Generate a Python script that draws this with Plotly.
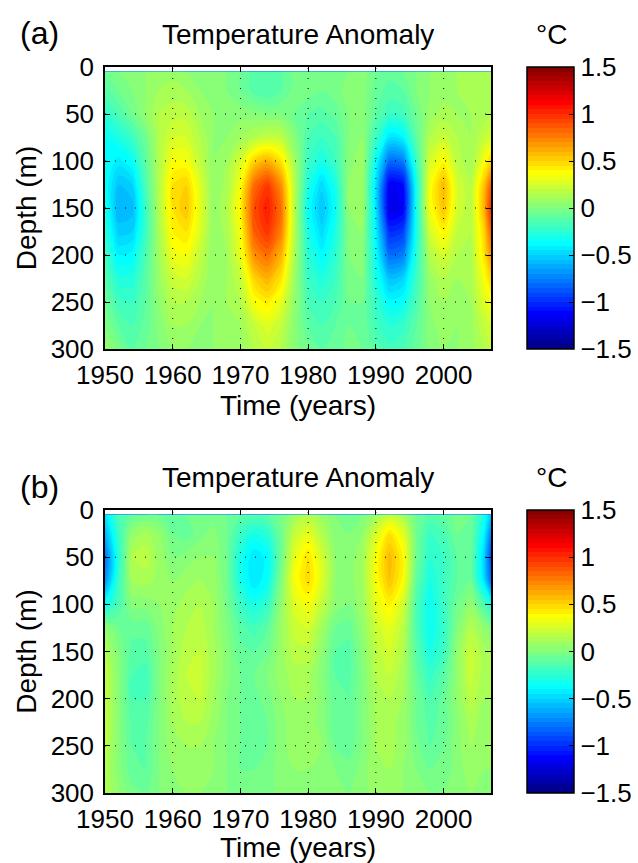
import plotly.graph_objects as go

# time axis (years) and depth levels (m) of the gridded anomaly fields
years = [1950, 1952, 1954, 1956, 1958, 1960, 1962, 1964, 1966, 1968,
         1970, 1972, 1974, 1976, 1978, 1980, 1982, 1984, 1986, 1988,
         1990, 1992, 1994, 1996, 1998, 2000, 2002, 2004, 2006, 2007]
depths = [5, 25, 50, 75, 100, 125, 150, 175, 200, 225, 250, 275, 300]

# panel (a): temperature anomaly (degC), one row per depth
temp_a = [
    [-0.05, 0.0, 0.02, 0.05, 0.08, 0.08, 0.05, 0.05, 0.03, 0.0, -0.05, -0.12, -0.15, -0.1, -0.03, 0.0, 0.0, -0.02, 0.0, 0.03, -0.05, -0.08, -0.05, 0.0, 0.05, 0.08, 0.1, 0.15, 0.12, 0.12],
    [-0.12, -0.05, 0.0, 0.05, 0.1, 0.12, 0.1, 0.05, 0.03, 0.0, -0.05, -0.12, -0.15, -0.1, -0.03, -0.02, -0.05, -0.02, 0.02, 0.03, -0.08, -0.12, -0.1, 0.0, 0.05, 0.08, 0.1, 0.15, 0.12, 0.12],
    [-0.25, -0.15, -0.05, 0.05, 0.15, 0.18, 0.18, 0.1, 0.05, 0.03, 0.03, 0.02, 0.0, 0.0, -0.05, -0.1, -0.12, -0.08, 0.0, 0.03, -0.1, -0.2, -0.18, -0.05, 0.08, 0.12, 0.1, 0.1, 0.12, 0.15],
    [-0.35, -0.3, -0.2, -0.05, 0.15, 0.25, 0.25, 0.15, 0.05, 0.05, 0.1, 0.15, 0.2, 0.18, 0.02, -0.15, -0.2, -0.15, 0.0, 0.05, -0.2, -0.45, -0.4, -0.1, 0.15, 0.22, 0.15, 0.1, 0.2, 0.25],
    [-0.35, -0.42, -0.35, -0.1, 0.15, 0.35, 0.35, 0.2, 0.05, 0.1, 0.25, 0.5, 0.6, 0.45, 0.1, -0.2, -0.3, -0.2, 0.02, 0.1, -0.35, -0.8, -0.75, -0.2, 0.25, 0.38, 0.18, 0.1, 0.35, 0.5],
    [-0.35, -0.55, -0.5, -0.15, 0.15, 0.45, 0.5, 0.28, 0.05, 0.12, 0.35, 0.8, 0.95, 0.7, 0.15, -0.28, -0.48, -0.3, 0.05, 0.1, -0.45, -1.15, -1.1, -0.3, 0.35, 0.58, 0.25, 0.15, 0.55, 0.85],
    [-0.3, -0.6, -0.58, -0.2, 0.15, 0.45, 0.55, 0.3, 0.05, 0.15, 0.4, 0.9, 1.05, 0.8, 0.15, -0.35, -0.55, -0.35, 0.05, 0.1, -0.45, -1.2, -1.15, -0.3, 0.35, 0.55, 0.25, 0.15, 0.6, 1.0],
    [-0.25, -0.52, -0.5, -0.2, 0.12, 0.4, 0.45, 0.28, 0.05, 0.12, 0.35, 0.85, 0.98, 0.75, 0.15, -0.3, -0.48, -0.3, 0.0, 0.05, -0.4, -1.0, -0.95, -0.3, 0.25, 0.4, 0.2, 0.15, 0.5, 0.85],
    [-0.18, -0.4, -0.38, -0.15, 0.1, 0.32, 0.35, 0.2, 0.05, 0.1, 0.3, 0.7, 0.8, 0.6, 0.12, -0.25, -0.38, -0.25, 0.0, 0.02, -0.35, -0.8, -0.75, -0.25, 0.15, 0.25, 0.15, 0.12, 0.45, 0.7],
    [-0.12, -0.28, -0.28, -0.12, 0.08, 0.22, 0.25, 0.15, 0.05, 0.1, 0.2, 0.5, 0.6, 0.45, 0.08, -0.2, -0.28, -0.2, -0.02, 0.0, -0.3, -0.55, -0.5, -0.2, 0.08, 0.15, 0.1, 0.12, 0.35, 0.5],
    [-0.05, -0.18, -0.2, -0.1, 0.05, 0.15, 0.15, 0.1, 0.05, 0.1, 0.15, 0.35, 0.42, 0.3, 0.05, -0.15, -0.2, -0.15, -0.05, -0.05, -0.22, -0.38, -0.35, -0.15, 0.05, 0.1, 0.08, 0.1, 0.28, 0.35],
    [0.0, -0.1, -0.15, -0.08, 0.02, 0.1, 0.1, 0.05, 0.05, 0.08, 0.1, 0.2, 0.28, 0.2, 0.03, -0.1, -0.15, -0.1, -0.05, -0.05, -0.18, -0.25, -0.22, -0.1, 0.03, 0.08, 0.05, 0.08, 0.2, 0.25],
    [0.08, -0.02, -0.1, -0.05, 0.0, 0.05, 0.05, 0.03, 0.05, 0.08, 0.08, 0.15, 0.2, 0.15, 0.02, -0.05, -0.1, -0.08, -0.03, -0.05, -0.12, -0.18, -0.15, -0.08, 0.02, 0.05, 0.05, 0.08, 0.15, 0.2],
]

# panel (b): temperature anomaly (degC), one row per depth
temp_b = [
    [-0.45, -0.15, -0.08, -0.05, -0.05, -0.05, -0.05, -0.03, -0.02, -0.05, -0.1, -0.12, -0.1, -0.02, 0.1, 0.15, 0.08, 0.0, -0.02, 0.0, 0.1, 0.2, 0.12, -0.05, -0.12, -0.08, -0.03, -0.05, -0.3, -0.55],
    [-0.6, -0.2, 0.05, 0.12, 0.05, -0.05, -0.08, -0.02, 0.02, -0.05, -0.2, -0.3, -0.25, -0.05, 0.2, 0.3, 0.15, 0.02, 0.0, 0.05, 0.25, 0.45, 0.3, -0.05, -0.2, -0.15, -0.05, -0.05, -0.4, -0.75],
    [-0.8, -0.25, 0.15, 0.18, 0.08, 0.0, 0.02, 0.05, 0.05, -0.05, -0.3, -0.45, -0.38, -0.05, 0.3, 0.45, 0.25, 0.05, 0.02, 0.1, 0.35, 0.58, 0.4, -0.05, -0.25, -0.2, -0.1, -0.05, -0.5, -0.9],
    [-0.7, -0.2, 0.1, 0.12, 0.08, 0.05, 0.08, 0.1, 0.08, -0.05, -0.3, -0.45, -0.35, 0.0, 0.35, 0.48, 0.28, 0.05, 0.02, 0.1, 0.35, 0.55, 0.38, -0.1, -0.3, -0.2, -0.1, -0.05, -0.45, -0.8],
    [-0.35, -0.15, 0.02, 0.02, 0.05, 0.08, 0.12, 0.15, 0.1, -0.03, -0.2, -0.3, -0.22, 0.05, 0.28, 0.35, 0.2, 0.03, 0.0, 0.08, 0.3, 0.4, 0.25, -0.15, -0.35, -0.2, -0.05, 0.05, -0.15, -0.3],
    [0.05, -0.05, -0.08, -0.08, 0.02, 0.1, 0.15, 0.18, 0.1, 0.0, -0.12, -0.18, -0.1, 0.08, 0.22, 0.25, 0.1, -0.05, -0.08, 0.05, 0.22, 0.3, 0.18, -0.15, -0.35, -0.22, 0.0, 0.15, 0.05, 0.0],
    [0.15, 0.0, -0.12, -0.12, 0.0, 0.1, 0.18, 0.2, 0.12, 0.02, -0.08, -0.1, -0.05, 0.08, 0.18, 0.18, 0.05, -0.1, -0.12, 0.02, 0.18, 0.25, 0.15, -0.12, -0.3, -0.2, 0.05, 0.22, 0.12, 0.1],
    [0.2, 0.02, -0.15, -0.18, 0.0, 0.12, 0.2, 0.22, 0.12, 0.02, -0.05, -0.05, 0.0, 0.08, 0.12, 0.12, 0.02, -0.1, -0.12, 0.0, 0.15, 0.2, 0.12, -0.08, -0.22, -0.12, 0.05, 0.22, 0.12, 0.12],
    [0.2, 0.02, -0.15, -0.15, 0.0, 0.12, 0.18, 0.2, 0.1, 0.0, -0.05, -0.08, -0.02, 0.05, 0.1, 0.1, 0.03, -0.08, -0.1, 0.0, 0.12, 0.15, 0.1, -0.05, -0.15, -0.08, 0.05, 0.18, 0.1, 0.1],
    [0.2, 0.02, -0.12, -0.12, 0.0, 0.1, 0.15, 0.15, 0.08, 0.0, -0.05, -0.1, -0.05, 0.03, 0.08, 0.08, 0.03, -0.08, -0.1, 0.0, 0.1, 0.12, 0.08, -0.05, -0.12, -0.08, 0.03, 0.12, 0.08, 0.1],
    [0.18, 0.02, -0.1, -0.1, 0.0, 0.08, 0.1, 0.1, 0.05, 0.0, -0.05, -0.08, -0.05, 0.03, 0.08, 0.08, 0.05, -0.05, -0.08, 0.0, 0.1, 0.12, 0.08, -0.03, -0.1, -0.05, 0.03, 0.1, 0.08, 0.08],
    [0.15, 0.02, -0.08, -0.1, 0.0, 0.05, 0.08, 0.08, 0.05, 0.0, -0.05, -0.05, -0.03, 0.03, 0.05, 0.05, 0.05, 0.0, -0.03, 0.02, 0.1, 0.1, 0.05, 0.0, -0.05, -0.03, 0.02, 0.08, 0.05, 0.05],
    [0.15, 0.05, -0.03, -0.05, 0.0, 0.05, 0.05, 0.05, 0.03, 0.0, -0.03, -0.03, -0.02, 0.02, 0.05, 0.05, 0.05, 0.02, 0.0, 0.03, 0.08, 0.08, 0.05, 0.02, 0.0, 0.0, 0.02, 0.05, 0.05, 0.05],
]

year_ticks = [1950, 1960, 1970, 1980, 1990, 2000]
depth_ticks = [0, 50, 100, 150, 200, 250, 300]
cbar_ticks = [-1.5, -1, -0.5, 0, 0.5, 1, 1.5]
cbar_labels = ['\u22121.5', '\u22121', '\u22120.5', '0', '0.5', '1', '1.5']

jet = [[0, 'rgb(0,0,128)'], [0.125, 'rgb(0,0,255)'], [0.375, 'rgb(0,255,255)'],
       [0.625, 'rgb(255,255,0)'], [0.875, 'rgb(255,0,0)'], [1, 'rgb(128,0,0)']]

FONT = 'Liberation Sans, Arial, sans-serif'
W, H = 638, 863

fig = go.Figure()

panels = [
    ('x', 'y', temp_a, 67, 349, '(a)', 33),
    ('x2', 'y2', temp_b, 510, 793, '(b)', 487),
]

for xa, ya, z, top, bot, tag, tag_y in panels:
    fig.add_trace(go.Contour(
        x=years, y=depths, z=z, xaxis=xa, yaxis=ya,
        colorscale=jet, zmin=-1.5, zmax=1.5,
        autocontour=False,
        contours=dict(start=-1.5, end=1.5, size=0.05, coloring='fill'),
        line=dict(width=0, smoothing=1),
        hoverinfo='skip',
        colorbar=dict(
            x=527 / W, xanchor='left', xref='paper',
            y=1 - (top + bot) / 2 / H, yanchor='middle',
            len=bot - top, lenmode='pixels',
            thickness=47, thicknessmode='pixels',
            outlinecolor='black', outlinewidth=1.5,
            tickvals=cbar_ticks, ticktext=cbar_labels,
            ticks='inside', ticklen=5, tickcolor='black',
            tickfont=dict(family=FONT, size=26, color='black'),
            xpad=0, ypad=0,
        ),
    ))

    # dotted grid lines drawn on top of the filled contours
    for yr in year_ticks[1:]:
        fig.add_shape(type='line', xref=xa, yref=ya + ' domain', x0=yr, x1=yr, y0=0, y1=1,
                      line=dict(color='black', width=1, dash='1px,9px'), layer='above')
    for d in depth_ticks[1:-1]:
        fig.add_shape(type='line', xref=xa + ' domain', yref=ya, x0=0, x1=1, y0=d, y1=d,
                      line=dict(color='black', width=1, dash='1px,9px'), layer='above')

    title_y = top - 33
    fig.add_annotation(text='Temperature Anomaly', xref='paper', yref='paper',
                       x=298 / W, y=1 - title_y / H, xanchor='center', yanchor='middle',
                       showarrow=False, font=dict(family=FONT, size=28, color='black'))
    fig.add_annotation(text='\u00b0C', xref='paper', yref='paper',
                       x=551 / W, y=1 - title_y / H, xanchor='center', yanchor='middle',
                       showarrow=False, font=dict(family=FONT, size=28, color='black'))
    fig.add_annotation(text=tag, xref='paper', yref='paper',
                       x=40 / W, y=1 - tag_y / H, xanchor='center', yanchor='middle',
                       showarrow=False, font=dict(family=FONT, size=32, color='black'))

axis_common = dict(
    showline=True, linecolor='black', linewidth=1.5, mirror='ticks',
    ticks='inside', ticklen=5, tickcolor='black', tickwidth=1,
    showgrid=False, zeroline=False, automargin=False,
    tickfont=dict(family=FONT, size=26, color='black'),
)

layout = dict(
    width=W, height=H, margin=dict(l=0, r=0, t=0, b=0, autoexpand=False),
    paper_bgcolor='white', plot_bgcolor='white',
    font=dict(family=FONT, color='black'),
    showlegend=False,
)
for i, (xa, ya, z, top, bot, tag, tag_y) in enumerate(panels):
    sfx = '' if i == 0 else '2'
    layout['xaxis' + sfx] = dict(
        axis_common, domain=[105 / W, 491 / W], anchor=ya, range=[1950, 2007],
        tickvals=year_ticks, ticklabelstandoff=2,
        title=dict(text='Time (years)', font=dict(family=FONT, size=28), standoff=2),
    )
    layout['yaxis' + sfx] = dict(
        axis_common, domain=[1 - bot / H, 1 - top / H], anchor=xa, range=[300, 0],
        tickvals=depth_ticks, ticklabelstandoff=4,
        title=dict(text='Depth (m)', font=dict(family=FONT, size=28), standoff=6),
    )

fig.update_layout(**layout)

# drop the browser's default page margin so the figure sits at the window corner
fig.write_html('out.html', config={'displayModeBar': False},
               post_script="document.body.style.margin='0';")
